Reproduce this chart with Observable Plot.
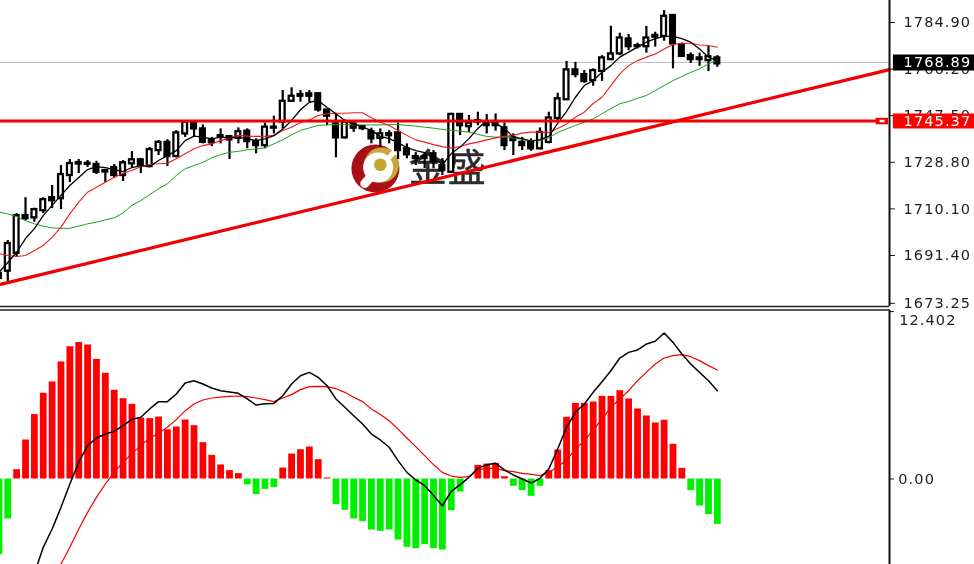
<!DOCTYPE html>
<html><head><meta charset="utf-8">
<style>html,body{margin:0;padding:0;background:#fff;overflow:hidden}svg{display:block;filter:blur(.3px)}</style>
<script src="https://cdn.jsdelivr.net/npm/d3@7"></script>
<script src="https://cdn.jsdelivr.net/npm/@observablehq/plot@0.6"></script>
</head><body><div id="c"></div>
<script>
const firstIndex = -1;
const opens = [1684.2,1685.1,1692.3,1707.4,1706.5,1709.4,1714.6,1714.2,1723.5,1728.7,1728.4,1727.9,1725.5,1726.7,1723.5,1728.2,1729.8,1727.1,1733.5,1736.8,1731.1,1740.2,1744.9,1742.2,1737.8,1739.5,1739.1,1738.4,1741.3,1737.2,1735.5,1742.5,1744.9,1753.3,1756.0,1756.3,1756.3,1749.8,1744.2,1738.6,1744.2,1743.1,1741.1,1738.4,1740.3,1740.6,1734.2,1731.1,1731.1,1732.2,1727.5,1724.8,1748.0,1743.1,1745.5,1745.1,1745.1,1742.6,1738.6,1736.8,1736.8,1734.2,1736.8,1746.4,1753.9,1765.9,1764.0,1761.6,1765.3,1770.0,1772.3,1778.3,1775.6,1775.2,1779.7,1779.3,1787.7,1776.0,1771.6,1770.7,1769.6,1770.7];
const closes = [1682.2,1696.2,1707.4,1706.2,1709.8,1713.8,1713.4,1723.9,1728.3,1728.1,1728.0,1724.8,1724.9,1723.5,1728.6,1729.8,1727.5,1733.9,1736.8,1731.1,1740.6,1744.9,1742.2,1736.8,1736.6,1739.1,1737.8,1741.1,1737.1,1735.5,1742.9,1742.9,1753.3,1755.3,1755.3,1755.3,1749.8,1747.3,1738.6,1744.9,1742.5,1742.3,1738.2,1740.2,1739.5,1733.5,1731.8,1730.3,1730.3,1729.1,1725.5,1748.0,1743.5,1744.5,1744.9,1743.5,1743.5,1735.5,1737.5,1735.5,1734.2,1740.8,1746.6,1754.3,1765.9,1764.0,1761.2,1765.6,1770.7,1772.3,1778.7,1775.2,1775.2,1778.7,1779.0,1787.4,1776.3,1771.3,1770.0,1770.0,1771.2,1768.3];
const highs = [1684.6,1697.4,1708.2,1714.6,1710.4,1714.6,1719.5,1727.5,1729.9,1729.9,1729.5,1729.2,1725.5,1727.9,1729.5,1733.1,1730.4,1734.8,1737.5,1737.9,1741.5,1745.3,1745.3,1743.8,1738.8,1742.2,1739.5,1742.6,1742.2,1738.2,1744.5,1747.3,1757.6,1758.7,1757.6,1757.6,1756.5,1749.8,1748.2,1745.8,1745.5,1743.5,1742.5,1742.2,1741.5,1744.6,1736.2,1732.7,1732.7,1733.5,1730.3,1748.5,1748.0,1747.6,1748.9,1748.0,1748.2,1744.6,1740.2,1738.8,1738.2,1742.6,1748.9,1756.5,1769.3,1768.9,1765.6,1766.3,1771.6,1783.4,1780.6,1780.1,1776.6,1783.3,1781.0,1789.7,1788.1,1776.6,1772.7,1772.6,1775.3,1771.6];
const lows = [1681.0,1681.0,1690.6,1705.4,1704.7,1708.2,1710.2,1709.8,1720.7,1724.3,1726.7,1723.9,1720.7,1722.4,1721.1,1726.4,1724.3,1726.6,1731.5,1727.1,1730.6,1738.8,1738.8,1736.2,1735.1,1736.2,1729.9,1736.2,1734.2,1732.2,1734.2,1740.2,1742.2,1752.8,1752.9,1752.9,1748.9,1743.5,1730.6,1738.2,1740.8,1741.5,1736.2,1734.8,1736.2,1729.9,1730.2,1727.5,1726.3,1726.2,1723.5,1724.3,1739.5,1740.8,1743.5,1740.2,1741.3,1733.5,1731.5,1733.5,1733.2,1733.8,1736.2,1745.3,1753.6,1762.7,1760.5,1759.3,1761.3,1769.6,1771.6,1773.6,1774.3,1772.6,1775.0,1777.4,1766.3,1770.9,1768.5,1767.3,1765.2,1766.9];
const maFast = [1684.6,1688.6,1692.7,1698.2,1702.2,1707.4,1711.5,1715.5,1719.5,1722.7,1725.9,1727.1,1726.7,1725.9,1725.1,1726.7,1727.5,1727.1,1729.5,1731.5,1733.5,1737.5,1739.3,1738.9,1738.2,1738.9,1738.6,1738.9,1738.2,1737.5,1738.2,1739.5,1742.2,1745.6,1749.9,1752.9,1753.6,1750.8,1748.3,1745.6,1744.2,1742.9,1741.6,1739.2,1738.3,1736.7,1734.7,1733.5,1732.7,1730.3,1727.9,1732.3,1734.9,1738.3,1742.4,1745.6,1744.4,1742.4,1738.9,1738.3,1737.3,1737.9,1739.2,1744.4,1749.2,1754.9,1759.6,1761.6,1764.9,1767.6,1771.0,1773.0,1775.0,1777.0,1778.4,1779.3,1779.3,1778.4,1777.0,1774.3,1771.0,1769.6];
const maMid = [1692.2,1691.4,1691.0,1691.4,1693.4,1695.4,1698.7,1702.8,1708.1,1712.8,1716.8,1718.8,1720.8,1722.8,1724.4,1725.5,1727.1,1727.9,1728.2,1728.4,1730.2,1732.2,1734.2,1735.5,1736.2,1737.5,1738.6,1739.6,1739.3,1739.2,1739.2,1739.6,1741.6,1742.9,1744.8,1745.8,1747.6,1748.3,1748.5,1748.5,1748.7,1748.7,1746.7,1744.9,1743.6,1741.6,1739.6,1737.8,1736.9,1735.9,1735.1,1734.5,1735.1,1736.2,1736.9,1737.8,1738.6,1739.2,1739.6,1740.5,1740.9,1740.9,1740.8,1742.4,1744.2,1746.9,1748.9,1752.4,1754.9,1759.6,1764.3,1767.6,1769.6,1771.0,1772.3,1774.3,1776.1,1776.6,1776.6,1775.9,1775.7,1775.0];
const maSlow = [1708.8,1708.1,1707.0,1705.4,1704.1,1703.2,1702.5,1702.3,1702.3,1703.2,1704.1,1704.8,1705.7,1706.5,1708.5,1711.5,1713.5,1715.8,1718.2,1720.2,1723.5,1726.2,1727.5,1728.8,1730.6,1731.9,1732.8,1733.2,1733.8,1734.2,1734.6,1736.2,1737.8,1739.8,1741.6,1742.6,1743.6,1743.8,1743.9,1743.9,1743.8,1743.8,1743.8,1743.8,1743.9,1743.9,1743.6,1743.3,1742.9,1742.5,1742.0,1741.6,1741.3,1740.9,1740.0,1739.2,1738.9,1738.9,1738.6,1737.9,1737.5,1737.5,1738.7,1740.8,1742.2,1743.6,1744.9,1746.2,1748.3,1750.3,1752.3,1753.2,1754.5,1755.6,1757.6,1759.6,1761.6,1763.2,1764.9,1766.3,1768.3,1769.9];
const histogram = [-5.6,-2.96,0.69,2.89,4.77,6.35,7.19,8.67,9.80,10.12,9.93,8.86,7.83,6.57,5.95,5.53,4.52,4.47,4.59,3.65,3.85,4.37,3.95,2.69,1.75,1.04,0.62,0.40,-0.44,-1.16,-0.77,-0.62,0.81,1.85,2.17,2.37,1.43,0.08,-1.90,-2.32,-2.96,-3.16,-3.78,-3.88,-3.78,-4.52,-5.06,-5.16,-4.86,-5.16,-5.26,-2.35,-0.96,0,1.01,1.11,1.16,0.17,-0.54,-0.86,-1.28,-0.54,0.62,2.15,4.57,5.60,5.60,5.70,6.12,6.12,6.54,5.93,5.19,4.67,4.15,4.35,2.57,0.79,-0.86,-2.0,-2.64,-3.36];
const macdFrom = 3;
const macdLine = [-7.0,-5.06,-3.70,-2.10,-0.37,1.23,2.47,3.04,3.33,3.53,3.95,4.42,4.57,5.19,5.73,5.73,6.30,7.11,7.28,7.04,6.74,6.54,6.44,6.35,5.93,5.48,5.58,5.60,6.17,7.04,7.65,7.90,7.53,6.91,5.93,5.31,4.69,4.07,3.33,2.89,2.35,1.36,0.49,-0.07,-0.49,-1.23,-1.98,-0.91,-0.42,0.12,0.79,1.06,1.16,0.67,0.30,0,-0.30,0.05,0.74,2.22,3.83,4.94,5.56,6.42,7.21,8.02,8.96,9.38,9.56,10.0,10.2,10.81,10.12,9.26,8.52,7.90,7.28,6.54];
const signalFrom = 6;
const signalLine = [-6.30,-5.06,-3.70,-2.47,-1.36,-0.37,0.49,1.23,1.90,2.47,3.04,3.38,3.83,4.40,5.06,5.56,5.85,6.0,6.07,6.12,6.15,6.10,6.0,5.88,5.73,6.0,6.25,6.62,6.84,6.86,6.84,6.69,6.42,6.05,5.73,5.19,4.77,4.32,3.70,3.04,2.40,1.73,1.06,0.49,0.22,0.12,0.17,0.67,0.81,0.79,0.62,0.54,0.42,0.35,0.25,0.49,0.91,1.41,2.22,2.84,3.63,4.44,5.31,5.93,6.54,7.28,7.90,8.52,8.96,9.14,9.21,9.06,8.77,8.40,8.07];
const priceTicks = [1784.9,1766.2,1747.5,1728.8,1710.1,1691.4,1672.2];
const priceLabels = ["1784.90","1766.20","1747.50","1728.80","1710.10","1691.40","1673.25"];
const macdTicks = [12.402,0];
const macdLabelAt = [11.74,0];
const macdLabels = ["12.402","0.00"];
const lastPrice = 1768.89, levelPrice = 1745.37;
const trendX = [-0.82,99.41], trendY = [1679.8,1766.0];
const xDomain = [-0.82,99.41];
const priceDomain = [1670.93,1793.73];
const macdDomain = [-6.333,12.63];
const axisFont = "'DejaVu Sans',Verdana,sans-serif";
const ink = "#1c1c22";
const base = {width:974, marginLeft:0, marginRight:85,
  style:{background:"#fff",fontFamily:axisFont,fontSize:"14.5px",letterSpacing:"1.1px"}};
const idx = (_,i)=>firstIndex+i;

const candles = opens.map((o,i)=>({i:firstIndex+i,o,c:closes[i],h:highs[i],l:lows[i]}));
const bars = histogram.map((v,i)=>({i:firstIndex+i,v}));
const tickName = new Map(priceTicks.map((t,i)=>[t,priceLabels[i]]));

// watermark, in chart units
const logoX = 41.45, logoY = 1726.3;

const pricePanel = Plot.plot({...base, height:308, marginTop:0, marginBottom:2,
  x:{domain:xDomain, range:[0,889], axis:null},
  y:{domain:priceDomain, range:[306,0], axis:null},
  marks:[
    Plot.axisY({anchor:"right", ticks:priceTicks, tickSize:5, tickPadding:9, tickFormat:d=>tickName.get(d), color:ink, label:null}),
    Plot.dot([0],{x:[logoX],y:[logoY],r:24,fill:"#a81016"}),
    Plot.dot([0],{x:[logoX+0.68],y:[logoY+1.4],r:17.5,fill:"#c9a63a"}),
    Plot.dot([0],{x:[logoX+0.3],y:[logoY+0.4],r:15,fill:"#fff"}),
    Plot.line([[logoX+0.7,logoY+1.4],[logoX+3.2,logoY+10.5]],{x:"0",y:"1",stroke:"#fff",strokeWidth:5}),
    Plot.line([[logoX+0.7,logoY+1.4],[logoX-1.2,logoY-6]],{x:"0",y:"1",stroke:"#fff",strokeWidth:9}),
    Plot.dot([0],{x:[logoX+0.55],y:[logoY+1.5],r:6.3,fill:"#c8a52c"}),
    Plot.text(["金盛"],{x:[45.2],y:[1726.2],text:d=>d,fill:"#2c2a2c",stroke:"#2c2a2c",strokeWidth:0.5,fontSize:38,textAnchor:"start",fontFamily:"'Noto Sans CJK SC',sans-serif"}),
    Plot.ruleY([lastPrice],{x1:xDomain[0],x2:xDomain[1],stroke:"#bdbdbd",strokeWidth:1}),
    Plot.ruleX(candles,{x:"i",y1:"l",y2:"h",stroke:"#000",strokeWidth:2.2}),
    Plot.rect(candles,{x1:d=>d.i-0.27,x2:d=>d.i+0.27,y1:"o",y2:"c",fill:d=>d.c>d.o?"#fff":"#000",stroke:"#000",strokeWidth:2.3}),
    Plot.line(maSlow,{x:idx,y:d=>d,stroke:"#1f9f1f",strokeWidth:1}),
    Plot.line(maMid,{x:idx,y:d=>d,stroke:"#ee1c1c",strokeWidth:1.1}),
    Plot.line(maFast,{x:idx,y:d=>d,stroke:"#000",strokeWidth:1.3}),
    Plot.line(trendX,{x:d=>d,y:(_,i)=>trendY[i],stroke:"#f00000",strokeWidth:3.2}),
    Plot.ruleY([levelPrice],{x1:xDomain[0],x2:98.3,stroke:"#f00000",strokeWidth:2.8}),
    Plot.ruleY([levelPrice],{x1:97.9,x2:99.3,stroke:"#f00000",strokeWidth:6.5}),
    Plot.ruleY([levelPrice],{x1:98.35,x2:98.9,stroke:"#fff",strokeWidth:2.5}),
    Plot.ruleX([xDomain[1]],{stroke:"#111",strokeWidth:2}),
    Plot.ruleY([priceDomain[0]],{x1:xDomain[0],x2:xDomain[1],stroke:"#222",strokeWidth:1.6}),
    Plot.ruleY([lastPrice],{x1:99.85,x2:110,stroke:"#000",strokeWidth:16}),
    Plot.text([lastPrice],{x:[101],y:d=>d,text:()=>"1768.89",fill:"#fff",textAnchor:"start"}),
    Plot.ruleY([levelPrice],{x1:99.85,x2:110,stroke:"#ff0000",strokeWidth:15}),
    Plot.text([levelPrice],{x:[101],y:d=>d,text:()=>"1745.37",fill:"#fff",textAnchor:"start"})
  ]});

const macdPanel = Plot.plot({...base, height:256, marginTop:1.5, marginBottom:0,
  x:{domain:xDomain, range:[0,889], axis:null},
  y:{domain:macdDomain, range:[256,0], axis:null},
  marks:[
    Plot.axisY({anchor:"right", ticks:macdTicks, tickSize:4, tickFormat:()=>"", color:ink, label:null}),
    Plot.ruleX(bars,{x:"i",y1:0,y2:"v",stroke:d=>d.v>=0?"#ff0000":"#00f000",strokeWidth:6.8}),
    Plot.line(signalLine,{x:(_,i)=>signalFrom+i,y:d=>d,stroke:"#f00000",strokeWidth:1.2}),
    Plot.line(macdLine,{x:(_,i)=>macdFrom+i,y:d=>d,stroke:"#000",strokeWidth:1.5}),
    Plot.text(macdLabels,{x:[100.5,100.4],y:macdLabelAt,text:d=>d,fill:ink,textAnchor:"start"}),
    Plot.ruleX([xDomain[1]],{stroke:"#111",strokeWidth:2}),
    Plot.ruleY([12.52],{x1:xDomain[0],x2:xDomain[1],stroke:"#222",strokeWidth:1.6})
  ]});

document.getElementById("c").append(pricePanel, macdPanel);
</script></body></html>
